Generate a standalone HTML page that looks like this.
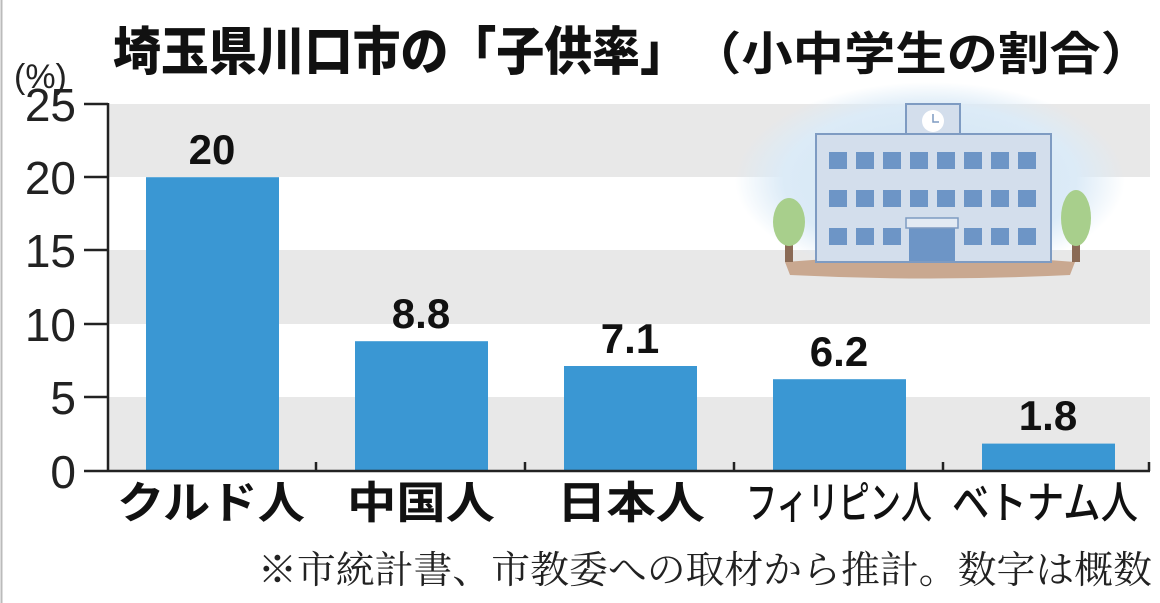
<!DOCTYPE html>
<html><head><meta charset="utf-8"><style>
html,body{margin:0;padding:0;background:#fff;}
body{width:1160px;height:603px;overflow:hidden;position:relative;}
svg{position:absolute;left:0;top:0;}
</style></head><body>
<svg width="1160" height="603" viewBox="0 0 1160 603" xmlns="http://www.w3.org/2000/svg">
<defs>
<radialGradient id="sky" cx="50%" cy="50%" r="50%">
<stop offset="0" stop-color="#cfe3f3"/><stop offset="0.75" stop-color="#dcebf7"/><stop offset="1" stop-color="#dcebf7" stop-opacity="0"/>
</radialGradient>
</defs>
<rect x="0" y="0" width="1160" height="603" fill="#fff"/>
<line x1="1.5" y1="0" x2="1.5" y2="603" stroke="#bbb" stroke-width="2"/>
<rect x="109" y="104" width="1041" height="73" fill="#e8e8e8"/>
<rect x="109" y="250" width="1041" height="74" fill="#e8e8e8"/>
<rect x="109" y="397" width="1041" height="73" fill="#e8e8e8"/>
<ellipse cx="930" cy="180" rx="195" ry="98" fill="url(#sky)"/>
<path d="M785 262 Q930 250 1075 262 L1070 275 Q930 282 790 275 Z" fill="#c9a890"/>
<rect x="816" y="134" width="235" height="128" fill="#d3deec" stroke="#7e9bc2" stroke-width="2"/>
<rect x="906" y="104" width="54" height="30" fill="#d3deec" stroke="#7e9bc2" stroke-width="2"/>
<circle cx="933" cy="121" r="11" fill="#fff"/>
<path d="M933 114 V122 H939" stroke="#7e9bc2" stroke-width="1.5" fill="none"/>
<g fill="#6d95c6">
<rect x="829" y="152" width="18" height="17"/><rect x="856" y="152" width="18" height="17"/><rect x="883" y="152" width="18" height="17"/><rect x="910" y="152" width="18" height="17"/><rect x="937" y="152" width="18" height="17"/><rect x="964" y="152" width="18" height="17"/><rect x="991" y="152" width="18" height="17"/><rect x="1018" y="152" width="18" height="17"/>
<rect x="829" y="190" width="18" height="17"/><rect x="856" y="190" width="18" height="17"/><rect x="883" y="190" width="18" height="17"/><rect x="910" y="190" width="18" height="17"/><rect x="937" y="190" width="18" height="17"/><rect x="964" y="190" width="18" height="17"/><rect x="991" y="190" width="18" height="17"/><rect x="1018" y="190" width="18" height="17"/>
<rect x="829" y="228" width="18" height="17"/><rect x="856" y="228" width="18" height="17"/><rect x="883" y="228" width="18" height="17"/><rect x="964" y="228" width="18" height="17"/><rect x="991" y="228" width="18" height="17"/><rect x="1018" y="228" width="18" height="17"/>
<rect x="909" y="228" width="46" height="33"/>
</g>
<rect x="906" y="218" width="52" height="10" fill="#e3eaf3" stroke="#7e9bc2" stroke-width="1.5"/>
<rect x="785" y="240" width="8" height="22" fill="#8a6a55"/>
<ellipse cx="789" cy="222" rx="16" ry="24" fill="#a8cf8c"/>
<rect x="1072" y="240" width="8" height="22" fill="#8a6a55"/>
<ellipse cx="1076" cy="218" rx="15" ry="28" fill="#a8cf8c"/>
<g fill="#3a97d3">
<rect x="146" y="177.2" width="133" height="292.8"/>
<rect x="355" y="341.2" width="133" height="128.8"/>
<rect x="564" y="366" width="133" height="104"/>
<rect x="773" y="379.2" width="133" height="90.8"/>
<rect x="982" y="443.6" width="133" height="26.4"/>
</g>
<g stroke="#222" stroke-width="2.5" fill="none">
<line x1="108" y1="103" x2="108" y2="471"/>
<line x1="84" y1="471" x2="1150" y2="471"/>
<line x1="84" y1="104" x2="108" y2="104"/><line x1="84" y1="177" x2="108" y2="177"/><line x1="84" y1="250" x2="108" y2="250"/><line x1="84" y1="324" x2="108" y2="324"/><line x1="84" y1="397" x2="108" y2="397"/>
<line x1="316" y1="462" x2="316" y2="471"/><line x1="525" y1="462" x2="525" y2="471"/><line x1="734" y1="462" x2="734" y2="471"/><line x1="943" y1="462" x2="943" y2="471"/><line x1="1149" y1="462" x2="1149" y2="471"/>
</g>
<g font-family="Liberation Sans, sans-serif" font-size="46" fill="#222" text-anchor="end">
<text x="76" y="121">25</text><text x="76" y="194">20</text><text x="76" y="267">15</text><text x="76" y="341">10</text><text x="76" y="414">5</text><text x="76" y="488">0</text>
</g>
<text x="14" y="88" font-family="Liberation Sans, 'Noto Sans CJK JP', sans-serif" font-size="34" fill="#222">(%)</text>
<text x="113" y="70" font-family="'Liberation Sans','Noto Sans CJK JP',sans-serif" font-size="52" font-weight="900" fill="#111" textLength="575" lengthAdjust="spacingAndGlyphs">埼玉県川口市の「子供率」</text>
<text x="690" y="70" font-family="'Liberation Sans','Noto Sans CJK JP',sans-serif" font-size="46" font-weight="700" fill="#111" textLength="462" lengthAdjust="spacingAndGlyphs">（小中学生の割合）</text>
<g font-family="Liberation Sans, sans-serif" font-size="42" font-weight="700" fill="#111" text-anchor="middle">
<text x="212" y="164">20</text><text x="421" y="328">8.8</text><text x="630" y="353">7.1</text><text x="839" y="366">6.2</text><text x="1048" y="430">1.8</text>
</g>
<g font-family="'Liberation Sans','Noto Sans CJK JP',sans-serif" font-size="44" font-weight="700" fill="#111">
<text x="117" y="518" textLength="188" lengthAdjust="spacingAndGlyphs">クルド人</text>
<text x="347" y="518" textLength="148" lengthAdjust="spacingAndGlyphs">中国人</text>
<text x="557" y="518" textLength="148" lengthAdjust="spacingAndGlyphs">日本人</text>
<text x="746" y="518" font-weight="500" textLength="186" lengthAdjust="spacingAndGlyphs">フィリピン人</text>
<text x="952" y="518" font-weight="500" textLength="186" lengthAdjust="spacingAndGlyphs">ベトナム人</text>
</g>
<text x="258" y="583" font-family="'Liberation Serif','Noto Serif CJK SC',serif" font-size="38" fill="#222" textLength="894" lengthAdjust="spacingAndGlyphs">※市統計書、市教委への取材から推計。数字は概数</text>
</svg>
</body></html>
